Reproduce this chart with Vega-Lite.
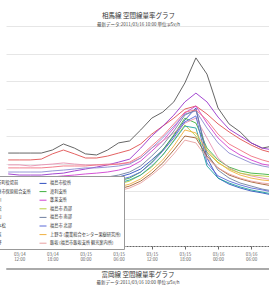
{
"$schema": "https://vega.github.io/schema/vega-lite/v6.json",
"padding": {"left": -22, "top": 13, "right": 0, "bottom": 0},
"background": "white",
"config": {"font": "Noto Sans CJK JP", "view": {"stroke": null}, "concat": {"spacing": 6}},
"vconcat": [
{
"width": 265, "height": 220,
"title": {"text": "相馬線 空間線量率グラフ", "subtitle": "最新データ:2011/03/16 10:00  単位:μSv/h", "fontSize": 6.5, "subtitleFontSize": 4.5, "fontWeight": "normal", "color": "#333", "subtitleColor": "#444", "offset": 0, "subtitlePadding": 2, "anchor": "middle"},
"data": {"values": [
{"hour":-2,"桑折町役場前":3.38,"福島市役所":2.25,"伊達市保原総合支所":3.13,"渡利支所":2.11,"梁川":2.62,"蓬莱支所":2.47,"月舘":2.95,"福島市 西部":2.00,"霊山":2.69,"福島市 南部":2.33,"二本松":2.84,"福島市 北部":2.18,"川俣":2.04,"上野寺 (農業総合センター果樹研究所)":1.89,"飯野":1.82,"飯坂 (福島市飯坂支所 観光案内所)":1.75},
{"hour":0,"桑折町役場前":3.38,"福島市役所":2.25,"伊達市保原総合支所":3.13,"渡利支所":2.11,"梁川":2.58,"蓬莱支所":2.47,"月舘":2.95,"福島市 西部":2.00,"霊山":2.69,"福島市 南部":2.33,"二本松":2.84,"福島市 北部":2.18,"川俣":2.04,"上野寺 (農業総合センター果樹研究所)":1.89,"飯野":1.82,"飯坂 (福島市飯坂支所 観光案内所)":1.75},
{"hour":2,"桑折町役場前":3.38,"福島市役所":2.25,"伊達市保原総合支所":3.13,"渡利支所":2.11,"梁川":2.58,"蓬莱支所":2.47,"月舘":2.91,"福島市 西部":2.00,"霊山":2.69,"福島市 南部":2.33,"二本松":2.84,"福島市 北部":2.18,"川俣":2.04,"上野寺 (農業総合センター果樹研究所)":1.89,"飯野":1.82,"飯坂 (福島市飯坂支所 観光案内所)":1.75},
{"hour":4,"桑折町役場前":3.38,"福島市役所":2.29,"伊達市保原総合支所":3.16,"渡利支所":2.15,"梁川":2.58,"蓬莱支所":2.47,"月舘":2.95,"福島市 西部":2.04,"霊山":2.69,"福島市 南部":2.36,"二本松":2.84,"福島市 北部":2.18,"川俣":2.07,"上野寺 (農業総合センター果樹研究所)":1.93,"飯野":1.85,"飯坂 (福島市飯坂支所 観光案内所)":1.78},
{"hour":6,"桑折町役場前":3.49,"福島市役所":2.29,"伊達市保原総合支所":3.35,"渡利支所":2.15,"梁川":2.62,"蓬莱支所":2.51,"月舘":2.98,"福島市 西部":2.04,"霊山":2.73,"福島市 南部":2.36,"二本松":2.87,"福島市 北部":2.22,"川俣":2.07,"上野寺 (農業総合センター果樹研究所)":1.93,"飯野":1.85,"飯坂 (福島市飯坂支所 観光案内所)":1.78},
{"hour":8,"桑折町役場前":3.71,"福島市役所":2.33,"伊達市保原総合支所":3.49,"渡利支所":2.18,"梁川":2.65,"蓬莱支所":2.55,"月舘":3.02,"福島市 西部":2.07,"霊山":2.76,"福島市 南部":2.40,"二本松":2.91,"福島市 北部":2.22,"川俣":2.11,"上野寺 (農業総合センター果樹研究所)":1.96,"飯野":1.89,"飯坂 (福島市飯坂支所 観光案内所)":1.82},
{"hour":10,"桑折町役場前":3.56,"福島市役所":2.36,"伊達市保原総合支所":3.35,"渡利支所":2.18,"梁川":2.73,"蓬莱支所":2.58,"月舘":2.98,"福島市 西部":2.07,"霊山":2.80,"福島市 南部":2.40,"二本松":2.91,"福島市 北部":2.25,"川俣":2.11,"上野寺 (農業総合センター果樹研究所)":1.96,"飯野":1.89,"飯坂 (福島市飯坂支所 観光案内所)":1.82},
{"hour":12,"桑折町役場前":3.35,"福島市役所":2.36,"伊達市保原総合支所":3.20,"渡利支所":2.22,"梁川":2.80,"蓬莱支所":2.62,"月舘":2.95,"福島市 西部":2.11,"霊山":2.84,"福島市 南部":2.44,"二本松":2.91,"福島市 北部":2.25,"川俣":2.15,"上野寺 (農業総合センター果樹研究所)":2.00,"飯野":1.93,"飯坂 (福島市飯坂支所 観光案内所)":1.85},
{"hour":14,"桑折町役場前":3.31,"福島市役所":2.40,"伊達市保原総合支所":3.20,"渡利支所":2.25,"梁川":2.87,"蓬莱支所":2.65,"月舘":2.95,"福島市 西部":2.15,"霊山":2.84,"福島市 南部":2.47,"二本松":2.95,"福島市 北部":2.29,"川俣":2.18,"上野寺 (農業総合センター果樹研究所)":2.04,"飯野":1.96,"飯坂 (福島市飯坂支所 観光案内所)":1.89},
{"hour":16,"桑折町役場前":3.49,"福島市役所":2.44,"伊達市保原総合支所":3.27,"渡利支所":2.29,"梁川":2.95,"蓬莱支所":2.69,"月舘":2.98,"福島市 西部":2.18,"霊山":2.87,"福島市 南部":2.51,"二本松":2.95,"福島市 北部":2.33,"川俣":2.22,"上野寺 (農業総合センター果樹研究所)":2.07,"飯野":2.00,"飯坂 (福島市飯坂支所 観光案内所)":1.93},
{"hour":18,"桑折町役場前":3.75,"福島市役所":2.51,"伊達市保原総合支所":3.38,"渡利支所":2.36,"梁川":3.05,"蓬莱支所":2.76,"月舘":2.98,"福島市 西部":2.25,"霊山":2.91,"福島市 南部":2.58,"二本松":2.98,"福島市 北部":2.40,"川俣":2.29,"上野寺 (農業総合センター果樹研究所)":2.15,"飯野":2.07,"飯坂 (福島市飯坂支所 観光案内所)":2.00},
{"hour":20,"桑折町役場前":3.82,"福島市役所":2.62,"伊達市保原総合支所":3.49,"渡利支所":2.47,"梁川":3.16,"蓬莱支所":2.87,"月舘":3.02,"福島市 西部":2.36,"霊山":2.98,"福島市 南部":2.69,"二本松":3.05,"福島市 北部":2.51,"川俣":2.40,"上野寺 (農業総合センター果樹研究所)":2.25,"飯野":2.18,"飯坂 (福島市飯坂支所 観光案内所)":2.11},
{"hour":22,"桑折町役場前":4.22,"福島市役所":2.80,"伊達市保原総合支所":3.71,"渡利支所":2.69,"梁川":3.56,"蓬莱支所":3.09,"月舘":3.20,"福島市 西部":2.58,"霊山":3.20,"福島市 南部":2.91,"二本松":3.27,"福島市 北部":2.69,"川俣":2.58,"上野寺 (農業総合センター果樹研究所)":2.44,"飯野":2.36,"飯坂 (福島市飯坂支所 観光案内所)":2.29},
{"hour":24,"桑折町役場前":4.65,"福島市役所":3.13,"伊達市保原総合支所":4.07,"渡利支所":3.05,"梁川":4.00,"蓬莱支所":3.45,"月舘":3.56,"福島市 西部":2.87,"霊山":3.56,"福島市 南部":3.27,"二本松":3.64,"福島市 北部":3.02,"川俣":2.91,"上野寺 (農業総合センター果樹研究所)":2.76,"飯野":2.65,"飯坂 (福島市飯坂支所 観光案内所)":2.58},
{"hour":26,"桑折町役場前":4.87,"福島市役所":3.49,"伊達市保原総合支所":4.36,"渡利支所":3.49,"梁川":4.36,"蓬莱支所":3.82,"月舘":3.82,"福島市 西部":3.31,"霊山":3.93,"福島市 南部":3.67,"二本松":4.00,"福島市 北部":3.45,"川俣":3.31,"上野寺 (農業総合センター果樹研究所)":3.13,"飯野":3.02,"飯坂 (福島市飯坂支所 観光案内所)":2.91},
{"hour":28,"桑折町役場前":5.24,"福島市役所":4.00,"伊達市保原総合支所":4.65,"渡利支所":4.04,"梁川":4.76,"蓬莱支所":4.29,"月舘":4.11,"福島市 西部":3.85,"霊山":4.36,"福島市 南部":4.18,"二本松":4.44,"福島市 北部":3.93,"川俣":3.82,"上野寺 (農業総合センター果樹研究所)":3.64,"飯野":3.49,"飯坂 (福島市飯坂支所 観光案内所)":3.35},
{"hour":30,"桑折町役場前":5.93,"福島市役所":4.58,"伊達市保原総合支所":4.98,"渡利支所":4.65,"梁川":5.24,"蓬莱支所":4.84,"月舘":4.47,"福島市 西部":4.40,"霊山":4.80,"福島市 南部":4.76,"二本松":4.87,"福島市 北部":4.51,"川俣":4.36,"上野寺 (農業総合センター果樹研究所)":4.22,"飯野":4.00,"飯坂 (福島市飯坂支所 観光案内所)":3.85},
{"hour":32,"桑折町役場前":6.84,"福島市役所":5.02,"伊達市保原総合支所":5.09,"渡利支所":4.47,"梁川":5.56,"蓬莱支所":5.09,"月舘":4.65,"福島市 西部":4.00,"霊山":4.91,"福島市 南部":4.95,"二本松":4.95,"福島市 北部":4.73,"川俣":4.29,"上野寺 (農業総合センター果樹研究所)":4.11,"飯野":3.93,"飯坂 (福島市飯坂支所 観光案内所)":3.75},
{"hour":34,"桑折町役場前":6.25,"福島市役所":3.20,"伊達市保原総合支所":4.80,"渡利支所":3.56,"梁川":5.24,"蓬莱支所":4.47,"月舘":3.93,"福島市 西部":3.42,"霊山":4.29,"福島市 南部":3.38,"二本松":4.58,"福島市 北部":3.02,"川俣":2.91,"上野寺 (農業総合センター果樹研究所)":3.49,"飯野":3.27,"飯坂 (福島市飯坂支所 観光案内所)":3.20},
{"hour":36,"桑折町役場前":5.02,"福島市役所":2.47,"伊達市保原総合支所":4.44,"渡利支所":3.13,"梁川":4.69,"蓬莱支所":3.93,"月舘":3.20,"福島市 西部":3.02,"霊山":3.75,"福島市 南部":2.76,"二本松":4.07,"福島市 北部":2.55,"川俣":2.47,"上野寺 (農業総合センター果樹研究所)":3.05,"飯野":2.84,"飯坂 (福島市飯坂支所 観光案内所)":2.84},
{"hour":38,"桑折町役場前":4.44,"福島市役所":2.25,"伊達市保原総合支所":4.15,"渡利支所":2.87,"梁川":4.25,"蓬莱支所":3.56,"月舘":2.84,"福島市 西部":2.80,"霊山":3.38,"福島市 南部":2.47,"二本松":3.71,"福島市 北部":2.36,"川俣":2.29,"上野寺 (農業総合センター果樹研究所)":2.76,"飯野":2.58,"飯坂 (福島市飯坂支所 観光案内所)":2.62},
{"hour":40,"桑折町役場前":4.15,"福島市役所":2.11,"伊達市保原総合支所":3.89,"渡利支所":2.73,"梁川":4.00,"蓬莱支所":3.31,"月舘":2.65,"福島市 西部":2.65,"霊山":3.20,"福島市 南部":2.29,"二本松":3.49,"福島市 北部":2.22,"川俣":2.15,"上野寺 (農業総合センター果樹研究所)":2.58,"飯野":2.44,"飯坂 (福島市飯坂支所 観光案内所)":2.47},
{"hour":42,"桑折町役場前":3.75,"福島市役所":2.00,"伊達市保原総合支所":3.67,"渡利支所":2.65,"梁川":3.75,"蓬莱支所":3.13,"月舘":2.55,"福島市 西部":2.58,"霊山":3.02,"福島市 南部":2.18,"二本松":3.27,"福島市 北部":2.11,"川俣":2.04,"上野寺 (農業総合センター果樹研究所)":2.47,"飯野":2.33,"飯坂 (福島市飯坂支所 観光案内所)":2.36},
{"hour":44,"桑折町役場前":3.56,"福島市役所":1.93,"伊達市保原総合支所":3.49,"渡利支所":2.62,"梁川":3.56,"蓬莱支所":2.98,"月舘":2.47,"福島市 西部":2.55,"霊山":2.91,"福島市 南部":2.07,"二本松":3.13,"福島市 北部":2.04,"川俣":1.96,"上野寺 (農業総合センター果樹研究所)":2.40,"飯野":2.25,"飯坂 (福島市飯坂支所 観光案内所)":2.29},
{"hour":46,"桑折町役場前":3.64,"福島市役所":1.85,"伊達市保原総合支所":3.38,"渡利支所":2.58,"梁川":3.49,"蓬莱支所":2.91,"月舘":2.40,"福島市 西部":2.51,"霊山":2.84,"福島市 南部":2.00,"二本松":3.02,"福島市 北部":1.96,"川俣":1.89,"上野寺 (農業総合センター果樹研究所)":2.36,"飯野":2.18,"飯坂 (福島市飯坂支所 観光案内所)":2.25}
]},
"transform": [{"fold": ["桑折町役場前","福島市役所","伊達市保原総合支所","渡利支所","梁川","蓬莱支所","月舘","福島市 西部","霊山","福島市 南部","二本松","福島市 北部","川俣","上野寺 (農業総合センター果樹研究所)","飯野","飯坂 (福島市飯坂支所 観光案内所)"], "as": ["station", "value"]}],
"mark": {"type": "line", "strokeWidth": 0.9, "clip": true},
"encoding": {
"x": {"field": "hour", "type": "quantitative", "scale": {"domain": [-2.4, 45.6], "nice": false, "zero": false},
 "axis": {"values": [0, 6, 12, 18, 24, 30, 36, 42], "labelExpr": "['03/' + (14 + floor((datum.value + 12) / 24)), (((datum.value + 12) % 24) < 10 ? '0' : '') + ((datum.value + 12) % 24) + ':00']", "title": null, "grid": false, "domainColor": "#666", "domainDash": [2, 1], "tickColor": "#666", "tickSize": 3, "labelFontSize": 4.5, "labelColor": "#666", "labelPadding": 2, "labelLineHeight": 5}},
"y": {"field": "value", "type": "quantitative", "scale": {"domain": [0, 8], "nice": false},
 "axis": {"values": [0, 1, 2, 3, 4, 5, 6, 7, 8], "labels": false, "ticks": false, "domain": false, "title": null, "gridColor": "#e6e6e6"}},
"color": {"field": "station", "type": "nominal",
 "scale": {"domain": ["桑折町役場前","伊達市保原総合支所","梁川","月舘","霊山","二本松","川俣","飯野","福島市役所","渡利支所","蓬莱支所","福島市 西部","福島市 南部","福島市 北部","上野寺 (農業総合センター果樹研究所)","飯坂 (福島市飯坂支所 観光案内所)"],
  "range": ["#555555","#e05050","#9933cc","#e890b0","#8a8ad0","#f07080","#20a0a0","#a06030","#3050c0","#40b040","#d040d0","#b8d040","#7080a0","#5a6ad8","#f0b040","#e8a0a0"]},
 "legend": {"orient": "none", "legendX": -27, "legendY": 150, "columns": 2, "title": null, "fillColor": "white", "strokeColor": "#999", "padding": 3, "labelFontSize": 4.2, "labelColor": "#333", "symbolType": "stroke", "symbolSize": 49, "symbolStrokeWidth": 1, "rowPadding": 1.6, "columnPadding": 6, "labelLimit": 200, "labelOffset": 3}}
}
},
{
"width": 264, "height": 1,
"view": {"stroke": "#aaa", "strokeWidth": 1},
"title": {"text": "富岡線 空間線量率グラフ", "subtitle": "最新データ:2011/03/16 10:00  単位:μSv/h", "orient": "bottom", "fontSize": 6.5, "subtitleFontSize": 4.5, "fontWeight": "normal", "color": "#333", "subtitleColor": "#444", "offset": 3, "subtitlePadding": 1.5, "anchor": "middle"},
"data": {"values": []},
"mark": "point",
"encoding": {}
}
]
}
